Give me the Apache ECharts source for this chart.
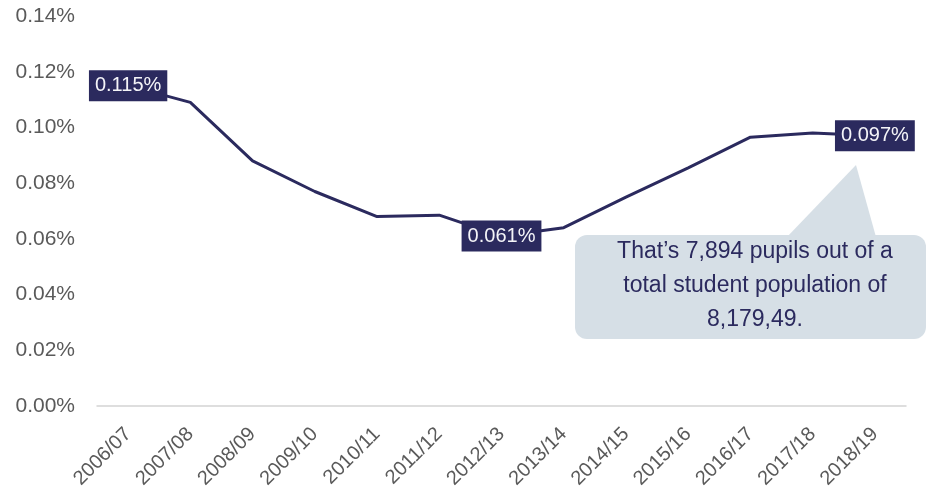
<!DOCTYPE html>
<html>
<head>
<meta charset="utf-8">
<script src="https://cdn.jsdelivr.net/npm/echarts@6/dist/echarts.min.js"></script>
<style>
html,body{margin:0;padding:0;background:#fff;}
#chart{width:927px;height:492px;}
</style>
</head>
<body>
<div id="chart"></div>
<script>
var categories = ['2006/07','2007/08','2008/09','2009/10','2010/11','2011/12','2012/13','2013/14','2014/15','2015/16','2016/17','2017/18','2018/19'];
var values = [0.115, 0.109, 0.088, 0.077, 0.068, 0.0685, 0.061, 0.064, 0.075, 0.0855, 0.0965, 0.098, 0.097];
var labelledIndex = [0, 6, 12];
var labelTexts = ['0.115%', '0.061%', '0.097%'];
var calloutLines = ['That\u2019s 7,894 pupils out of a', 'total student population of', '8,179,49.'];

var navy = '#2b2a5e';
var font = 'Liberation Sans, Arial, sans-serif';
var seriesData = values.map(function (v, i) {
  var k = labelledIndex.indexOf(i);
  if (k < 0) return v;
  return {
    value: v,
    label: {
      show: true,
      position: 'inside',
      formatter: labelTexts[k],
      backgroundColor: navy,
      color: '#f4f4f8',
      fontSize: 20,
      fontFamily: font,
      padding: [6, 6, 5, 6]
    }
  };
});

var chart = echarts.init(document.getElementById('chart'), null, {renderer: 'canvas'});
chart.setOption({
  animation: false,
  backgroundColor: '#ffffff',
  grid: {left: 97, right: 21, top: 16, bottom: 86, containLabel: false},
  xAxis: {
    type: 'category',
    data: categories,
    boundaryGap: true,
    axisLine: {lineStyle: {color: '#d4d4d4', width: 1.5}},
    axisTick: {show: false},
    axisLabel: {
      rotate: 45,
      interval: 0,
      margin: 25,
      fontSize: 20,
      color: '#5a5a5a',
      fontFamily: font
    },
    splitLine: {show: false}
  },
  yAxis: {
    type: 'value',
    min: 0,
    max: 0.14,
    interval: 0.02,
    axisLine: {show: false},
    axisTick: {show: false},
    splitLine: {show: false},
    axisLabel: {
      margin: 22,
      fontSize: 21,
      color: '#5a5a5a',
      fontFamily: font,
      formatter: function (v) { return v.toFixed(2) + '%'; }
    }
  },
  series: [{
    type: 'line',
    data: seriesData,
    symbol: 'circle',
    symbolSize: 0,
    showSymbol: true,
    lineStyle: {color: navy, width: 3},
    itemStyle: {color: navy},
    z: 3
  }],
  graphic: [{
    type: 'group',
    children: [
      {
        type: 'polygon',
        shape: {points: [[787, 237], [856, 165], [876, 237]]},
        style: {fill: '#d6dfe6'}
      },
      {
        type: 'rect',
        shape: {x: 575, y: 235, width: 351, height: 104, r: 12},
        style: {fill: '#d6dfe6'}
      },
      {
        type: 'text',
        x: 755,
        y: 235,
        style: {
          text: calloutLines.join('\n'),
          textAlign: 'center',
          textVerticalAlign: 'top',
          fill: navy,
          fontSize: 23,
          lineHeight: 34,
          fontFamily: font
        }
      }
    ]
  }]
});
</script>
</body>
</html>
